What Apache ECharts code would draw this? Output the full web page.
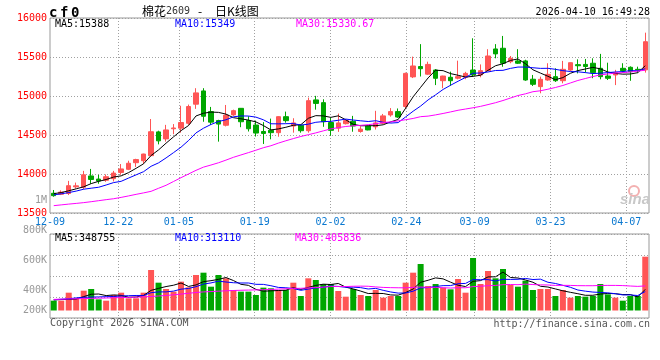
<!DOCTYPE html>
<html><head><meta charset="utf-8">
<script src="https://cdn.jsdelivr.net/npm/echarts@6/dist/echarts.min.js"></script>
<style>html,body{margin:0;padding:0;background:#fff;}#c{width:660px;height:360px;}</style>
</head><body><div id="c"></div>
<script>
// ---------- data ----------
const dates = ['12-09','12-10','12-11','12-12','12-15','12-16','12-17','12-18','12-19','12-22','12-23','12-24','12-25','12-26','12-29','12-30','12-31','01-05','01-06','01-07','01-08','01-09','01-12','01-13','01-14','01-15','01-16','01-19','01-20','01-21','01-22','01-23','01-26','01-27','01-28','01-29','01-30','02-02','02-03','02-04','02-05','02-06','02-09','02-10','02-11','02-12','02-13','02-24','02-25','02-26','02-27','03-02','03-03','03-04','03-05','03-06','03-09','03-10','03-11','03-12','03-13','03-16','03-17','03-18','03-19','03-20','03-23','03-24','03-25','03-26','03-27','03-30','03-31','04-01','04-02','04-03','04-07','04-08','04-09','04-10'];
const labelIdx = [0,9,17,27,37,47,56,66,76];

const open  = [13753,13740,13750,13835,13830,13975,13935,13920,13940,14020,14060,14145,14170,14235,14540,14450,14580,14588,14650,14895,15065,14800,14685,14625,14758,14842,14685,14628,14545,14560,14530,14735,14615,14625,14555,14950,14915,14660,14588,14645,14675,14545,14615,14605,14650,14757,14800,14865,15245,15378,15280,15333,15196,15240,15228,15240,15333,15270,15325,15603,15612,15440,15450,15450,15215,15120,15205,15248,15196,15333,15402,15405,15420,15355,15256,15270,15355,15368,15342,15335];
const close = [13722,13768,13850,13848,13990,13930,13910,13965,14012,14065,14138,14185,14256,14542,14425,14565,14590,14660,14865,15040,14740,14665,14640,14755,14812,14670,14580,14525,14520,14530,14735,14684,14655,14555,14940,14905,14670,14560,14655,14685,14615,14575,14565,14655,14745,14800,14730,15290,15385,15350,15405,15227,15256,15196,15248,15290,15270,15325,15513,15540,15420,15483,15420,15205,15150,15214,15278,15196,15342,15427,15388,15378,15300,15248,15227,15299,15325,15312,15333,15696];
const low   = [13709,13730,13730,13815,13805,13875,13875,13900,13905,13990,14050,14090,14130,14225,14380,14415,14510,14530,14630,14835,14670,14628,14415,14610,14745,14600,14545,14480,14385,14445,14478,14658,14530,14530,14530,14825,14605,14490,14540,14635,14542,14530,14560,14570,14640,14735,14720,14840,15230,15250,15270,15140,15100,15130,15214,15215,15248,15240,15320,15483,15375,15420,15410,15195,15128,15035,15195,15180,15163,15320,15290,15300,15228,15214,15205,15140,15300,15195,15299,15300];
const high  = [13795,13790,13912,13890,14040,14065,13990,13995,14040,14128,14170,14195,14260,14705,14555,14630,14640,14875,14890,15100,15100,14860,14695,14885,14825,14845,14740,14685,14665,14710,14740,14800,14715,14630,14980,15002,14958,14720,14775,14700,14745,14610,14620,14810,14770,14845,14840,15300,15505,15665,15440,15345,15260,15312,15453,15310,15740,15405,15600,15665,15770,15513,15600,15465,15270,15248,15420,15355,15450,15430,15470,15475,15483,15540,15427,15335,15420,15380,15376,15812];

const ma5  = [13748,13762,13785,13810,13836,13877,13906,13929,13961,13976,14018,14073,14131,14237,14309,14395,14476,14556,14621,14744,14779,14794,14790,14768,14722,14708,14691,14668,14621,14565,14578,14599,14625,14632,14714,14748,14745,14726,14746,14695,14637,14618,14619,14619,14631,14668,14699,14844,14990,15111,15232,15331,15325,15287,15266,15243,15252,15266,15329,15388,15414,15456,15475,15414,15336,15294,15253,15209,15236,15291,15326,15346,15367,15348,15308,15290,15280,15282,15299,15388];
const ma10 = [13731,13746,13762,13781,13805,13818,13830,13859,13890,13906,13948,13989,14030,14099,14143,14206,14274,14344,14429,14527,14587,14635,14673,14695,14733,14744,14743,14729,14695,14644,14643,14645,14647,14627,14639,14663,14672,14675,14689,14704,14692,14682,14673,14683,14663,14653,14659,14732,14805,14871,14950,15015,15084,15138,15189,15238,15292,15295,15308,15327,15329,15354,15371,15371,15362,15354,15355,15342,15325,15314,15310,15300,15288,15292,15300,15308,15313,15325,15324,15349];
const ma30 = [13594,13604,13614,13623,13633,13645,13658,13671,13683,13700,13719,13739,13758,13778,13817,13855,13904,13953,14000,14047,14088,14115,14144,14178,14214,14244,14274,14305,14337,14362,14396,14426,14454,14481,14504,14527,14553,14578,14595,14609,14618,14624,14632,14645,14659,14669,14681,14696,14712,14735,14742,14758,14776,14796,14817,14833,14849,14867,14890,14914,14942,14974,15006,15028,15055,15067,15087,15109,15135,15167,15199,15224,15249,15271,15282,15294,15300,15308,15319,15330.67];

// volume, thousand lots
const volume = [162,162,294,201,327,355,184,162,256,294,201,201,294,668,459,355,311,476,382,586,624,393,586,531,338,311,311,256,377,366,338,338,459,239,531,503,437,437,322,228,355,256,239,338,212,239,239,459,624,767,404,437,377,349,520,294,866,437,652,531,685,421,393,492,338,355,355,239,338,212,239,228,239,437,267,212,162,239,239,888];
const vma5  = [175,180,183,188,229,268,272,246,257,250,219,223,249,332,365,395,417,454,397,422,476,492,514,544,494,432,415,349,319,324,330,335,376,348,381,414,434,429,446,385,356,320,280,283,280,257,253,297,355,466,499,538,522,467,417,395,481,493,554,556,634,545,536,504,466,400,387,356,325,300,277,251,251,271,282,277,263,263,224,348.755];
const vma10 = [177,186,193,208,218,221,224,228,231,240,244,248,248,294,307,307,320,352,364,393,436,455,484,470,458,454,454,432,431,409,381,375,363,333,353,372,384,403,397,383,385,377,355,365,333,306,287,289,319,373,378,396,410,411,442,447,510,508,510,487,515,513,515,529,511,517,466,446,415,383,338,319,304,298,291,277,257,257,247,313.11];
const vma30 = [183,187,190,193,197,200,203,206,210,213,216,220,225,231,239,248,259,271,284,297,307,312,319,325,330,334,337,340,343,347,353,359,365,366,373,378,386,395,397,395,400,402,400,389,381,377,375,374,382,388,381,383,376,370,376,375,394,400,409,414,426,429,426,435,428,423,421,414,415,414,410,409,409,413,414,414,411,404,398,405.836];

const priceLegend = ['MA5:15388','MA10:15349','MA30:15330.67'];
const volLegend   = ['MA5:348755','MA10:313110','MA30:405836'];
const volTickText = ['1M','800K','600K','400K','200K'];

// ---------- styles ----------
const MONO = '"DejaVu Sans Mono", "Liberation Mono", monospace';
const RED = '#ff5555', GREEN = '#00a600';
const GRID_LINE = {color:'#a0a0a0', type:[1,2], width:1};
const showAt = (i) => labelIdx.indexOf(i) >= 0;
const volTickY = [200.7, 230.7, 260.7, 290.5, 310];

const chart = echarts.init(document.getElementById('c'), null, {renderer:'canvas'});

function txt(text, x, y, fill, font, align) {
  return {type:'text', silent:true, z:100, style:{text:text, x:x, y:y, fill:fill, font:font, textAlign:align||'left', textVerticalAlign:'middle'}};
}

const graphics = [
  txt('c', 49, 13, '#000', 'bold 14px ' + MONO),
  txt('f', 60, 13, '#000', 'bold 14px ' + MONO),
  txt('0', 71, 13, '#000', 'bold 14px ' + MONO),
  txt('棉花', 142, 11, '#000', '12px "Noto Sans CJK SC"'),
  txt('2609', 166, 11, '#333', '10px ' + MONO),
  txt('-', 198, 11, '#000', '12px "Noto Sans CJK SC"'),
  txt('日K线图', 215, 11, '#000', '12px "Noto Sans CJK SC"'),
  txt('2026-04-10 16:49:28', 650, 12, '#000', '10px ' + MONO, 'right'),
  txt(priceLegend[0], 55, 24.5, '#000', '10px ' + MONO),
  txt(priceLegend[1], 175, 24.5, '#0000ff', '10px ' + MONO),
  txt(priceLegend[2], 296, 24.5, '#ff00ff', '10px ' + MONO),
  txt(volLegend[0], 55, 238.5, '#000', '10px ' + MONO),
  txt(volLegend[1], 175, 238.5, '#0000ff', '10px ' + MONO),
  txt(volLegend[2], 295, 238.5, '#ff00ff', '10px ' + MONO),
  txt('Copyright 2026 SINA.COM', 50, 323.5, '#555', '10px ' + MONO),
  txt('http://finance.sina.com.cn', 650, 324, '#555', '10px ' + MONO, 'right'),
  {type:'circle', silent:true, z:1, shape:{cx:634, cy:191, r:5}, style:{fill:'none', stroke:'#f3b0b0', lineWidth:2}},
  txt('sina', 635, 200, '#c8c8c8', 'italic bold 15px "Liberation Sans"', 'center')
];
volTickText.forEach((t, k) => graphics.push(txt(t, 47, volTickY[k], '#999', '10px ' + MONO, 'right')));

const hiddenCat = (grid, bg, pos) => ({type:'category', gridIndex:grid, data:dates, boundaryGap:bg, position:pos,
  axisLine:{show:false}, axisTick:{show:false}, axisLabel:{show:false}, splitLine:{show:false}});

const lineSeries = (data, color, xi, yi) => ({type:'line', data:data, xAxisIndex:xi, yAxisIndex:yi, symbol:'none', silent:true,
  lineStyle:{color:color, width:1}, itemStyle:{color:color}, z:5, animation:false});

const option = {
  animation:false,
  backgroundColor:'#fff',
  textStyle:{fontFamily:MONO},
  grid:[
    {left:50, top:18, width:599, height:195, show:true, borderColor:'#999', borderWidth:1, backgroundColor:'rgba(0,0,0,0)', containLabel:false, outerBoundsMode:'none'},
    {left:50, top:234, width:599, height:84, show:true, borderColor:'#999', borderWidth:1, backgroundColor:'rgba(0,0,0,0)', containLabel:false, outerBoundsMode:'none'}
  ],
  xAxis:[
    hiddenCat(0, true, 'top'),
    {type:'category', gridIndex:0, data:dates, boundaryGap:false, position:'bottom',
      axisLine:{show:false}, axisTick:{show:false},
      axisLabel:{show:true, interval:(i)=>showAt(i), color:'#0a78d0', fontFamily:MONO, fontSize:10, margin:4, hideOverlap:false},
      splitLine:{show:true, interval:(i)=>showAt(i) && i>0, lineStyle:GRID_LINE}},
    hiddenCat(1, true, 'top'),
    {type:'category', gridIndex:1, data:dates, boundaryGap:false, position:'bottom',
      axisLine:{show:false}, axisTick:{show:false}, axisLabel:{show:false},
      splitLine:{show:true, interval:(i)=>showAt(i) && i>0, lineStyle:GRID_LINE}}
  ],
  yAxis:[
    {type:'value', gridIndex:0, min:13500, max:16000, interval:500,
      axisLine:{show:false}, axisTick:{show:false},
      axisLabel:{color:'#ff0000', fontFamily:MONO, fontSize:10, margin:3, padding:[0,0,4,0], formatter:(v)=>String(v)},
      splitLine:{show:true, lineStyle:GRID_LINE}},
    {type:'value', gridIndex:1, min:-123.75, max:1262.25, interval:346.5,
      axisLine:{show:false}, axisTick:{show:false}, axisLabel:{show:false},
      splitLine:{show:true, lineStyle:GRID_LINE}}
  ],
  series:[
    {type:'candlestick', xAxisIndex:0, yAxisIndex:0, barWidth:5, silent:true,
      data:open.map((o,i)=>[o, close[i], low[i], high[i]]),
      itemStyle:{color:RED, color0:GREEN, borderColor:RED, borderColor0:GREEN, borderWidth:1}},
    lineSeries(ma5, '#000000', 0, 0),
    lineSeries(ma10, '#0000ff', 0, 0),
    lineSeries(ma30, '#ff00ff', 0, 0),
    {type:'bar', xAxisIndex:2, yAxisIndex:1, barWidth:6, silent:true,
      data:volume.map((v,i)=>({value:v, itemStyle:{color: close[i] >= open[i] ? RED : GREEN}}))},
    lineSeries(vma5, '#000000', 2, 1),
    lineSeries(vma10, '#0000ff', 2, 1),
    lineSeries(vma30, '#ff00ff', 2, 1)
  ],
  graphic: graphics
};
chart.setOption(option);
</script>
</body></html>
